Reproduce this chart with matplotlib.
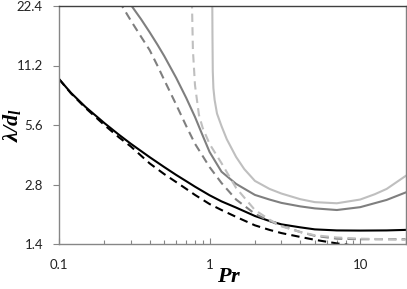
import matplotlib
matplotlib.use('Agg')
import matplotlib.pyplot as plt
from matplotlib.ticker import FixedLocator, NullFormatter

# -- Data -------------------------------------------------------------
pr_black       = [0.1, 0.12, 0.15, 0.2, 0.25, 0.3, 0.4, 0.5, 0.6, 0.7, 0.8, 1.0, 1.2, 1.5, 2.0, 2.5, 3.0, 4.0, 5.0, 7.0, 10.0, 15.0, 20.0]
black_solid    = [9.57, 8.15, 6.91, 5.73, 5.00, 4.50, 3.85, 3.43, 3.13, 2.91, 2.73, 2.47, 2.30, 2.14, 1.94, 1.83, 1.76, 1.70, 1.66, 1.64, 1.637, 1.64, 1.65]
black_dashed   = [9.57, 8.10, 6.83, 5.60, 4.85, 4.36, 3.58, 3.16, 2.88, 2.66, 2.48, 2.23, 2.08, 1.92, 1.74, 1.65, 1.59, 1.52, 1.47, 1.41, 1.36, 1.32, 1.30]

pr_dgray       = [0.28, 0.3, 0.35, 0.4, 0.45, 0.5, 0.6, 0.7, 0.8, 0.9, 1.0, 1.2, 1.5, 2.0, 2.5, 3.0, 4.0, 5.0, 7.0, 10.0, 15.0, 20.0]
dgray_solid    = [24.0, 22.7, 19.25, 16.5, 14.3, 12.5, 9.70, 7.67, 6.15, 4.95, 4.09, 3.25, 2.82, 2.48, 2.35, 2.26, 2.17, 2.12, 2.08, 2.15, 2.34, 2.55]
pr_dgray_d     = [0.25, 0.3, 0.35, 0.4, 0.45, 0.5, 0.6, 0.7, 0.8, 0.9, 1.0, 1.2, 1.5, 2.0, 2.5, 3.0, 4.0, 5.0, 7.0, 10.0, 15.0, 20.0]
dgray_dashed   = [23.8, 18.9, 15.7, 13.4, 11.2, 9.46, 7.10, 5.53, 4.50, 3.90, 3.43, 2.85, 2.35, 1.99, 1.83, 1.73, 1.61, 1.54, 1.49, 1.48, 1.48, 1.48]

pr_lgray       = [1.042, 1.045, 1.05, 1.06, 1.08, 1.12, 1.2, 1.3, 1.5, 1.7, 2.0, 2.5, 3.0, 4.0, 5.0, 7.0, 10.0, 12.5, 15.0, 20.0]
lgray_solid    = [24.0, 16.0, 10.5, 8.60, 7.50, 6.40, 5.53, 4.75, 3.86, 3.35, 2.92, 2.66, 2.52, 2.36, 2.28, 2.25, 2.35, 2.50, 2.66, 3.09]
pr_lgray_d     = [0.763, 0.775, 0.8, 0.85, 0.9, 1.0, 1.2, 1.5, 2.0, 2.5, 3.0, 4.0, 5.0, 7.0, 10.0, 15.0, 20.0]
lgray_dashed   = [24.0, 13.4, 8.9, 6.29, 5.41, 4.49, 3.59, 2.69, 2.08, 1.86, 1.72, 1.61, 1.55, 1.51, 1.49, 1.48, 1.47]

yticks = [1.4, 2.8, 5.6, 11.2, 22.4]
xticks = [0.1, 1, 10]

# -- Colors ------------------------------------------------------------
C_BLACK = "#000000"
C_DARK  = "#7f7f7f"
C_LIGHT = "#bfbfbf"
C_AXIS  = "#868686"

plt.rcParams['mathtext.fontset'] = 'custom'
plt.rcParams['mathtext.it'] = 'Liberation Serif:bold:italic'
plt.rcParams['mathtext.rm'] = 'Liberation Serif:bold:italic'
plt.rcParams['mathtext.bf'] = 'Liberation Serif:bold:italic'

fig = plt.figure(figsize=(4.07, 2.89), dpi=100)
ax = fig.add_axes([59/407, 45/289, 346.5/407, 238/289])

lw = 1.5
dash = (0, (4, 2.5))
ax.plot(pr_black, black_solid, color=C_BLACK, lw=lw)
ax.plot(pr_black, black_dashed, color=C_BLACK, lw=lw, linestyle=dash)
ax.plot(pr_dgray, dgray_solid, color=C_DARK, lw=lw)
ax.plot(pr_dgray_d, dgray_dashed, color=C_DARK, lw=lw, linestyle=dash)
ax.plot(pr_lgray, lgray_solid, color=C_LIGHT, lw=lw)
ax.plot(pr_lgray_d, lgray_dashed, color=C_LIGHT, lw=lw, linestyle=dash)

ax.set_xscale('log')
ax.set_yscale('log', base=2)
ax.set_xlim(0.1, 20)
ax.set_ylim(1.4, 22.4)

ax.yaxis.set_major_locator(FixedLocator(yticks))
ax.yaxis.set_minor_locator(FixedLocator([]))
ax.set_yticklabels([str(v) for v in yticks])
ax.yaxis.set_minor_formatter(NullFormatter())
ax.xaxis.set_major_locator(FixedLocator(xticks))
ax.set_xticklabels(['0.1', '1', '10'])
minors = [m * d for d in (0.1, 1, 10) for m in range(2, 10)] + [20]
ax.xaxis.set_minor_locator(FixedLocator([v for v in minors if v <= 20]))
ax.xaxis.set_minor_formatter(NullFormatter())

for lab in ax.get_xticklabels() + ax.get_yticklabels():
    lab.set_fontfamily('Lato')
    lab.set_fontsize(9.5)
    lab.set_color('#222222')

ax.tick_params(axis='y', which='major', direction='out', length=4, width=0.8,
               color=C_AXIS, pad=7.5)
ax.tick_params(axis='x', which='major', direction='in', length=4.5, width=0.8,
               color=C_AXIS, pad=11)
ax.tick_params(axis='x', which='minor', direction='in', length=3, width=0.8,
               color=C_AXIS)

ax.spines['left'].set_color(C_AXIS)
ax.spines['bottom'].set_color(C_AXIS)
ax.spines['top'].set_color('#404040')
ax.spines['right'].set_color('#808080')
for s in ax.spines.values():
    s.set_linewidth(1.0)

fig.text(229/407, 1 - 276/289, r'$Pr$', ha='center', va='center', fontsize=16)
fig.text(12/407, 1 - 125/289, r'$\lambda/d_l$', ha='center', va='center',
         fontsize=16, rotation=90)

fig.savefig('out.png', dpi=100)
